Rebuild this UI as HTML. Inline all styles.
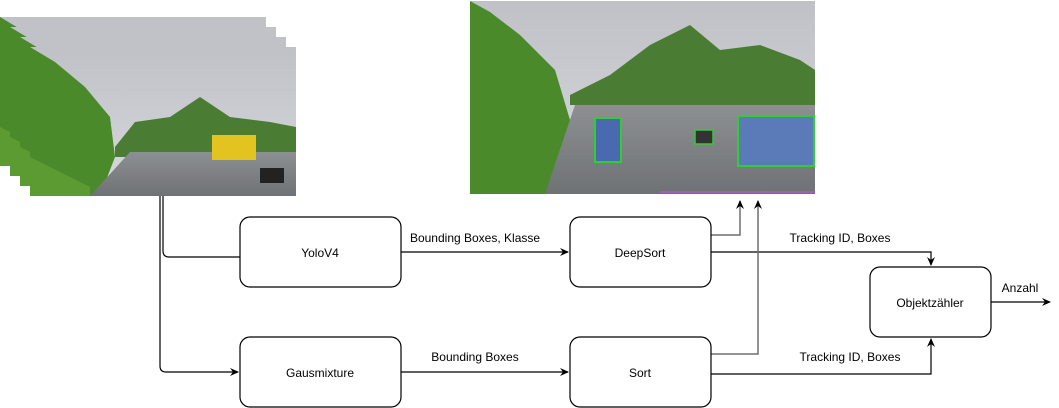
<!DOCTYPE html>
<html><head><meta charset="utf-8"><style>
html,body{margin:0;padding:0;background:#fff;}
svg{display:block;font-family:"Liberation Sans",Arial,sans-serif;}
</style></head><body>
<svg width="1059" height="408" viewBox="0 0 1059 408">
<defs>
<linearGradient id="sky" x1="0" y1="0" x2="0" y2="1"><stop offset="0" stop-color="#bfc1c7"/><stop offset="1" stop-color="#d8d9de"/></linearGradient>
<linearGradient id="road" x1="0" y1="0" x2="0" y2="1"><stop offset="0" stop-color="#8d9093"/><stop offset="1" stop-color="#6f7275"/></linearGradient>
<marker id="ab" markerWidth="10" markerHeight="10" refX="8" refY="5" orient="auto" markerUnits="userSpaceOnUse"><path d="M0,1 L9,5 L0,9 L3,5 Z" fill="#000"/></marker>
<g id="photo">
<rect x="0" y="0" width="266" height="149" fill="url(#sky)"/>
<path d="M0,0 L0,149 L70,149 L85,110 L80,70 L55,40 L25,15 Z" fill="#4a8a2a"/>
<path d="M85,100 L105,75 L140,70 L170,50 L200,70 L240,75 L266,80 L266,110 L85,110 Z" fill="#4a7d33"/>
<path d="M60,149 L100,105 L266,105 L266,149 Z" fill="url(#road)"/>
<path d="M0,110 L60,140 L60,149 L0,149 Z" fill="#5c9a32"/>
<rect x="182" y="88" width="44" height="25" fill="#e2c320"/>
<rect x="230" y="121" width="24" height="15" fill="#222"/>
</g>
</defs>
<g>
<use href="#photo" x="0" y="17"/>
<use href="#photo" x="10" y="27"/>
<use href="#photo" x="20" y="37"/>
<use href="#photo" x="30" y="47"/>
</g>
<g>
<rect x="470" y="1" width="345" height="193" fill="url(#sky)"/>
<path d="M470,1 L470,194 L555,194 L570,120 L555,70 L520,35 L490,12 Z" fill="#4a8a2a"/>
<path d="M570,95 L610,75 L650,45 L690,25 L720,50 L760,45 L800,60 L815,70 L815,105 L570,105 Z" fill="#4a7d33"/>
<path d="M545,194 L575,105 L815,105 L815,194 Z" fill="url(#road)"/>
<rect x="595" y="118" width="26" height="44" fill="#4a6ab0" stroke="#3c3" stroke-width="2"/>
<rect x="738" y="116" width="76" height="50" fill="#5a7ab8" stroke="#3c3" stroke-width="2"/>
<rect x="695" y="130" width="18" height="14" fill="#333" stroke="#3c3" stroke-width="1.5"/>
<line x1="660" y1="192" x2="815" y2="192" stroke="#b05ad0" stroke-width="1.5"/>
</g>
<g fill="none" stroke="#000" stroke-width="1.2">
<path d="M163,196 L163,251 Q163,257 169,257 L240,257"/>
<path d="M160,196 L160,366 Q160,372 166,372 L238,372" marker-end="url(#ab)"/>
<path d="M401,252 L568,252" marker-end="url(#ab)"/>
<path d="M401,372 L568,372" marker-end="url(#ab)"/>
<path d="M711,252 L931,252 L931,265" marker-end="url(#ab)"/>
<path d="M711,374 L931,374 L931,339" marker-end="url(#ab)"/>
<path d="M991,302 L1050,302" marker-end="url(#ab)"/>
</g>
<g fill="none" stroke="#6e6e6e" stroke-width="1.5">
<path d="M711,235 L740,235 L740,201" marker-end="url(#ab)"/>
<path d="M711,354 L758,354 L758,201" marker-end="url(#ab)"/>
</g>
<g fill="#fff" stroke="#000" stroke-width="1.2">
<rect x="240" y="217" width="161" height="70" rx="10"/>
<rect x="570" y="217" width="141" height="70" rx="10"/>
<rect x="240" y="337" width="161" height="70" rx="10"/>
<rect x="570" y="337" width="141" height="70" rx="10"/>
<rect x="870" y="267" width="121" height="70" rx="10"/>
</g>
<g font-size="12" fill="#000" text-anchor="middle">
<text x="320" y="257">YoloV4</text>
<text x="640" y="257">DeepSort</text>
<text x="320" y="377">Gausmixture</text>
<text x="640" y="377">Sort</text>
<text x="930" y="307">Objektzähler</text>
<text x="475" y="242">Bounding Boxes, Klasse</text>
<text x="475" y="361">Bounding Boxes</text>
<text x="840" y="242">Tracking ID, Boxes</text>
<text x="850" y="361">Tracking ID, Boxes</text>
<text x="1020" y="292">Anzahl</text>
</g>
</svg>
</body></html>
